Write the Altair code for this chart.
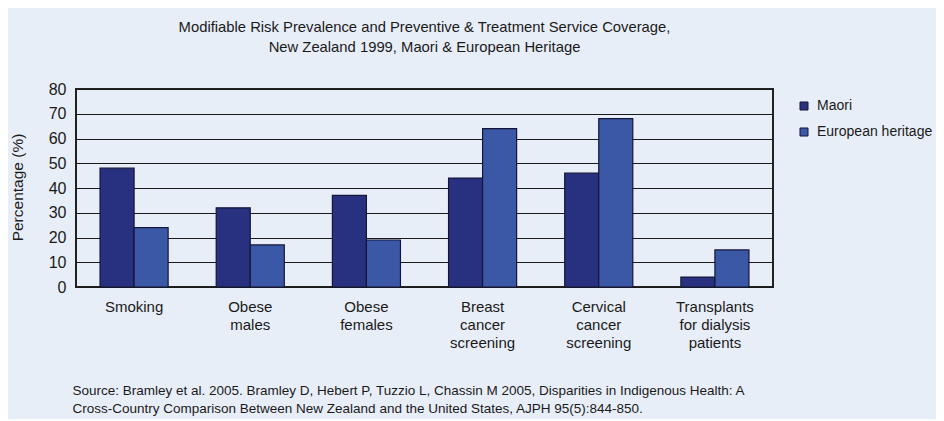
import altair as alt
import pandas as pd

categories = ["Smoking", "Obese|males", "Obese|females", "Breast|cancer|screening",
              "Cervical|cancer|screening", "Transplants|for dialysis|patients"]
groups = ["Maori", "European heritage"]
maori = [48, 32, 37, 44, 46, 4]
european = [24, 17, 19, 64, 68, 15]
y_ticks = [0, 10, 20, 30, 40, 50, 60, 70, 80]

title_lines = ["Modifiable Risk Prevalence and Preventive & Treatment Service Coverage,",
               "New Zealand 1999, Maori & European Heritage"]
source_lines = ["Source: Bramley et al. 2005. Bramley D, Hebert P, Tuzzio L, Chassin M 2005, Disparities in Indigenous Health: A",
                "Cross-Country Comparison Between New Zealand and the United States, AJPH 95(5):844-850."]

rows = []
for i, c in enumerate(categories):
    rows.append({"category": c, "group": groups[0], "value": maori[i]})
    rows.append({"category": c, "group": groups[1], "value": european[i]})
df = pd.DataFrame(rows)

FONT = "Liberation Sans"
BG = "#e8eef8"
TXT = "#1a1a1a"

chart = alt.Chart(df).mark_bar(stroke="#15153a", strokeWidth=1.2).encode(
    x=alt.X("category:N", sort=categories,
            scale=alt.Scale(paddingInner=0.414, paddingOuter=0.207),
            axis=alt.Axis(labelExpr="split(datum.label, '|')", labelAngle=0,
                          labelFontSize=15, labelLineHeight=18, labelPadding=12,
                          labelBaseline="top", ticks=False, domain=False,
                          labelColor=TXT,
                          title=source_lines, titleFontSize=13.5, titleFontWeight="normal",
                          titleAnchor="start", titleAlign="left", titleX=-4, titleY=96,
                          titleBaseline="top", titleLineHeight=18, titleColor=TXT)),
    xOffset=alt.XOffset("group:N", sort=groups),
    y=alt.Y("value:Q", scale=alt.Scale(domain=[0, 80], nice=False),
            axis=alt.Axis(values=y_ticks, ticks=False, domain=False,
                          gridColor=TXT, gridWidth=1, gridOpacity=1,
                          labelFontSize=16, labelPadding=10, labelColor=TXT,
                          title="Percentage (%)", titleFontSize=15.5, titleFontWeight="normal",
                          titleX=-59, titleY=98, titleAngle=-90, titleAlign="center",
                          titleBaseline="middle", titleColor=TXT)),
    color=alt.Color("group:N", sort=groups,
                    scale=alt.Scale(domain=groups, range=["#28317f", "#3b58a7"]),
                    legend=alt.Legend(title=None, orient="none", legendX=721, legendY=10,
                                      symbolType="square", symbolSize=64,
                                      symbolStrokeColor="#15153a", symbolStrokeWidth=1,
                                      labelFontSize=14, labelOffset=6, rowPadding=12,
                                      labelColor=TXT)),
).properties(
    width=697, height=198,
    title=alt.TitleParams(text=title_lines, anchor="middle", frame="group",
                          fontSize=14.8, fontWeight="normal", lineHeight=20,
                          offset=26, color=TXT, font=FONT),
    background=BG,
    padding={"left": 68, "top": 81, "right": 163, "bottom": 132},
    autosize=alt.AutoSizeParams(type="none"),
).configure(font=FONT).configure_view(stroke="#222222", strokeWidth=2)

chart.save("out.html", embed_options={"renderer": "svg", "actions": False})
